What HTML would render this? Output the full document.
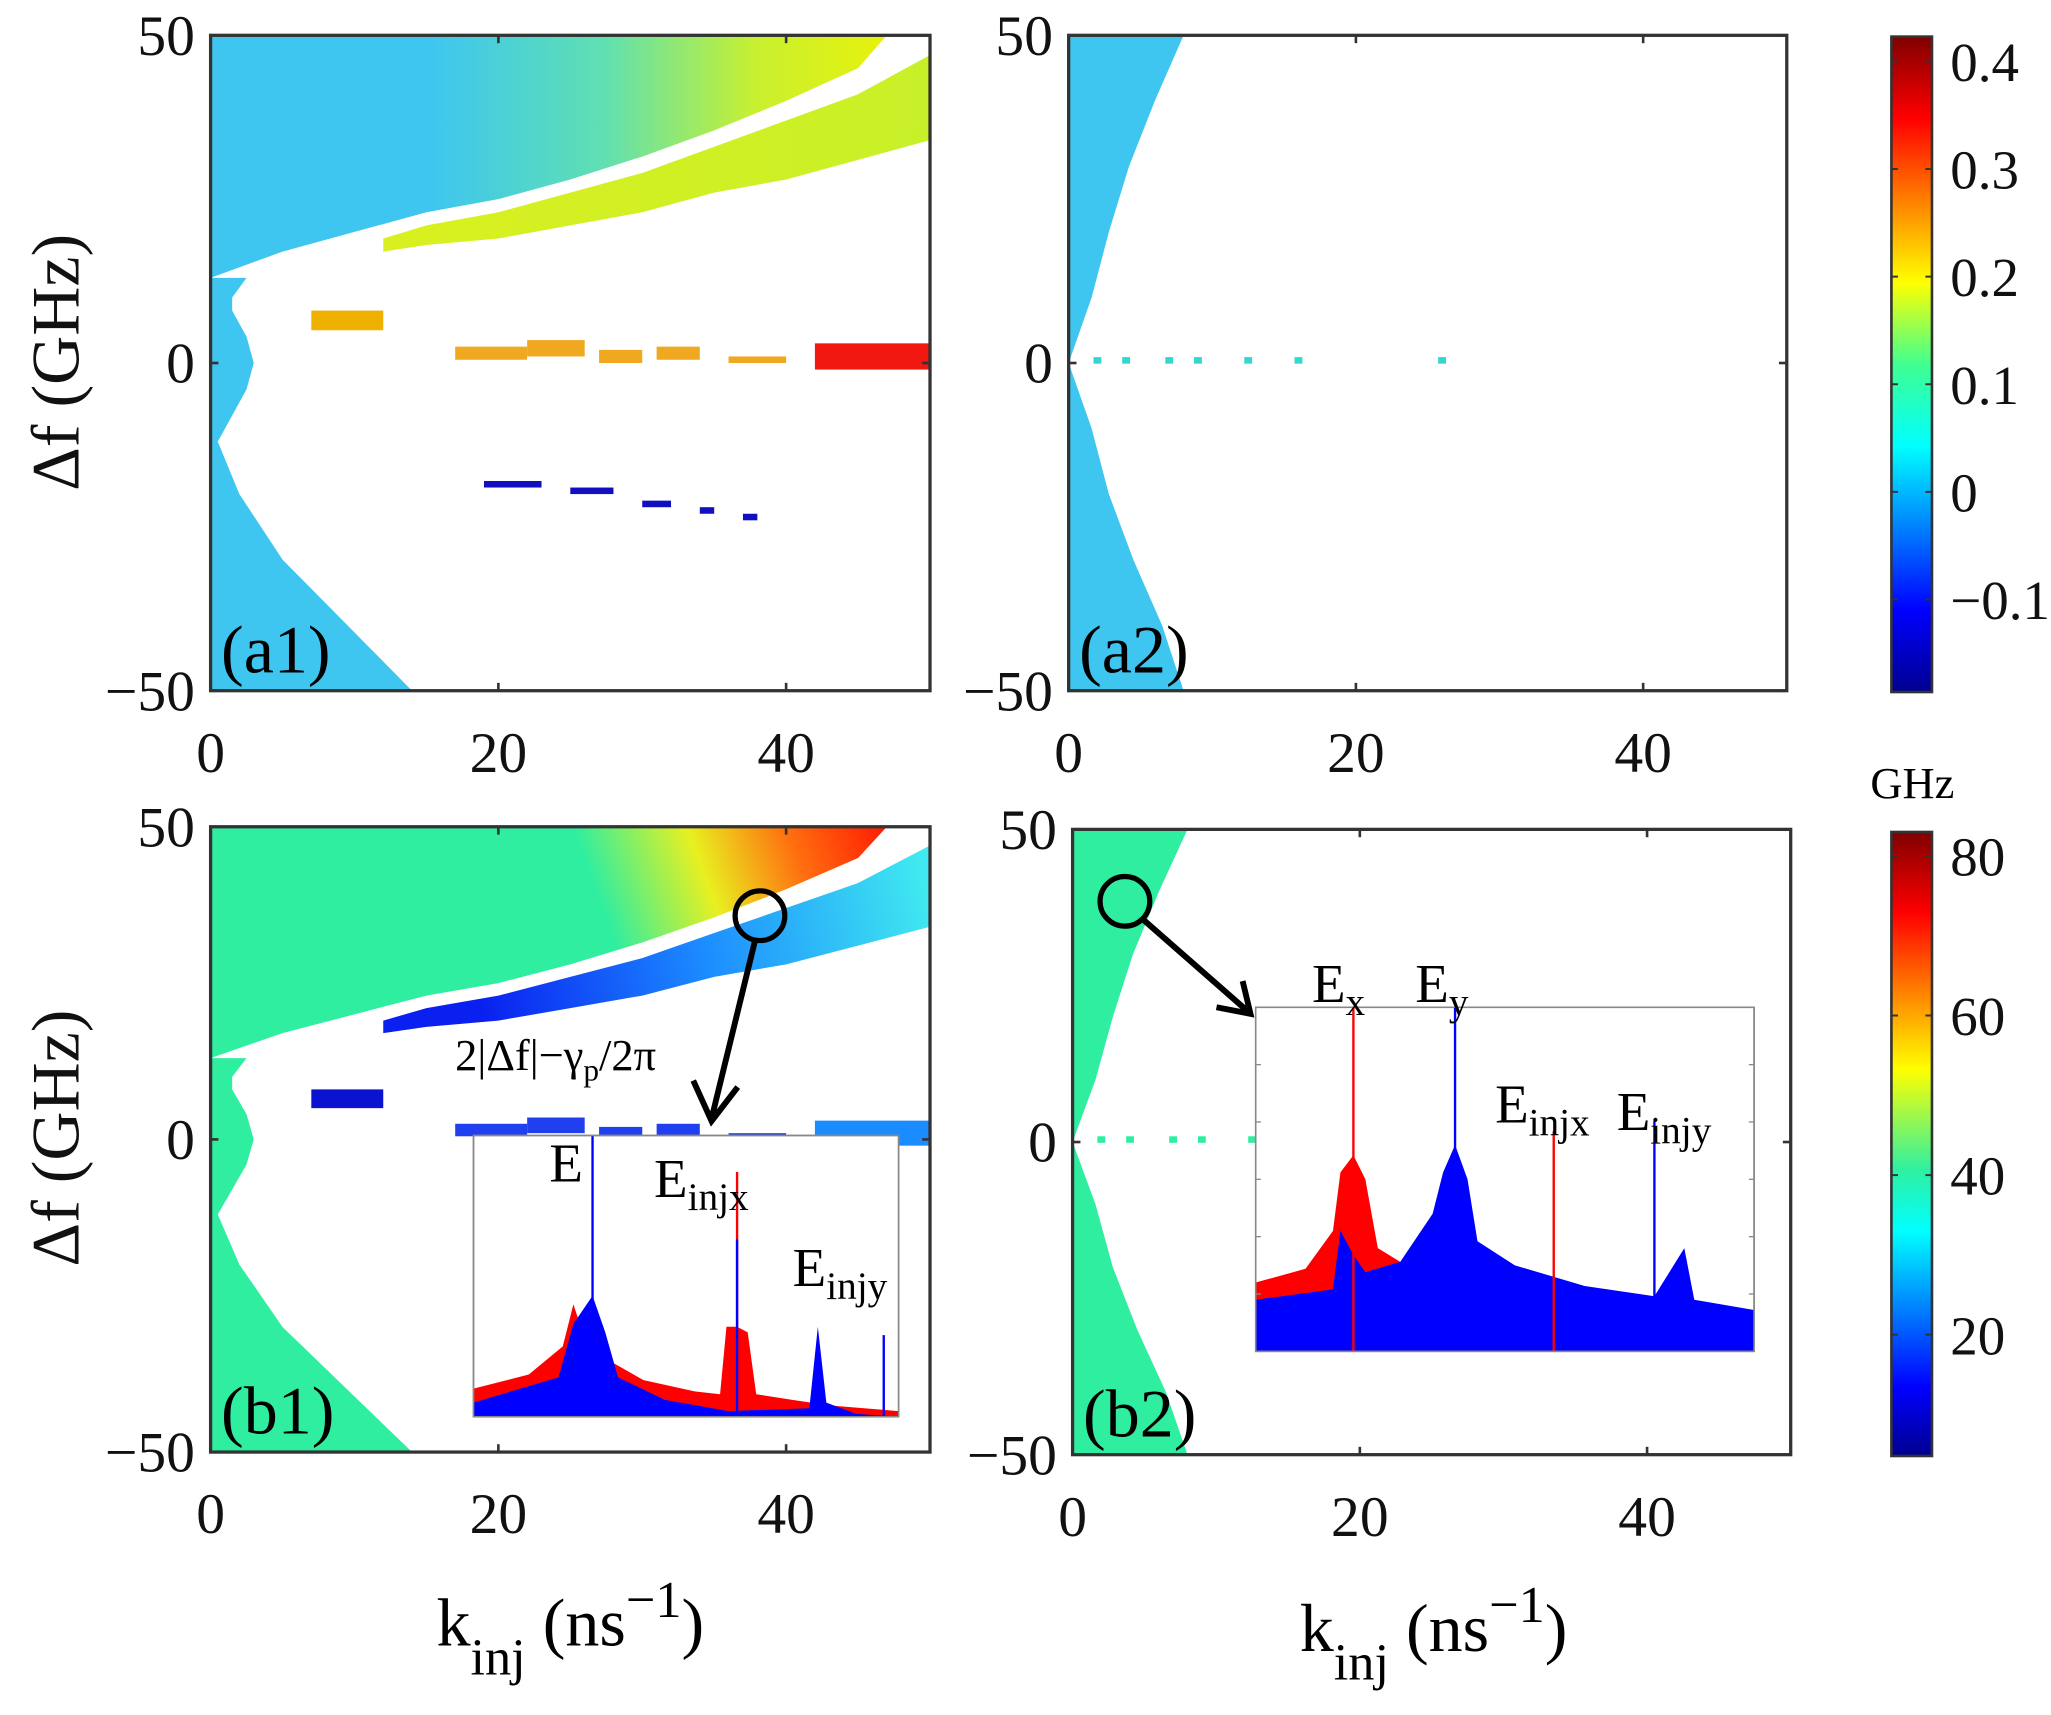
<!DOCTYPE html>
<html><head><meta charset="utf-8"><style>
html,body{margin:0;padding:0;background:#fff;}
svg{display:block;font-family:"Liberation Serif",serif;}
</style></head><body>
<svg id="fig" width="2051" height="1715" viewBox="0 0 1568 1311" preserveAspectRatio="none">
<defs>
<linearGradient id="jetV" x1="0" y1="1" x2="0" y2="0">
<stop offset="0" stop-color="#00008f"/><stop offset="0.125" stop-color="#0000ff"/><stop offset="0.375" stop-color="#00ffff"/><stop offset="0.5" stop-color="#40ff90"/><stop offset="0.625" stop-color="#ffff00"/><stop offset="0.875" stop-color="#ff0000"/><stop offset="1" stop-color="#800000"/>
</linearGradient>
<linearGradient id="jetV2" x1="0" y1="1" x2="0" y2="0">
<stop offset="0" stop-color="#00008f"/><stop offset="0.11" stop-color="#0000ff"/><stop offset="0.36" stop-color="#00ffff"/><stop offset="0.46" stop-color="#30f0a0"/><stop offset="0.62" stop-color="#ffff00"/><stop offset="0.87" stop-color="#ff0000"/><stop offset="1" stop-color="#800000"/>
</linearGradient>
<linearGradient id="gA1top" gradientUnits="userSpaceOnUse" x1="330" y1="0" x2="711" y2="0">
<stop offset="0" stop-color="#3ec6f0"/><stop offset="0.35" stop-color="#60e0b0"/><stop offset="0.65" stop-color="#c8f030"/><stop offset="1" stop-color="#f2f200"/>
</linearGradient>
<linearGradient id="gA1band" gradientUnits="userSpaceOnUse" x1="330" y1="0" x2="711" y2="0">
<stop offset="0" stop-color="#d8f020"/><stop offset="1" stop-color="#c8f028"/>
</linearGradient>
<linearGradient id="gB1top" gradientUnits="userSpaceOnUse" x1="470" y1="720" x2="690" y2="640">
<stop offset="0" stop-color="#30eea0"/><stop offset="0.35" stop-color="#e8f020"/><stop offset="0.65" stop-color="#ff7010"/><stop offset="1" stop-color="#ff1000"/>
</linearGradient>
<linearGradient id="gB1band" gradientUnits="userSpaceOnUse" x1="370" y1="780" x2="711" y2="700">
<stop offset="0" stop-color="#0a20f0"/><stop offset="0.5" stop-color="#1c8cff"/><stop offset="1" stop-color="#40e8f0"/>
</linearGradient>
</defs>
<g id="layer"></g>
</svg>
<script>
// ---- data ----
const xTicks = [0, 20, 40];
const yTicks = [50, 0, -50];
const yTickLabels = ["50", "0", "\u221250"];
// left lobe boundary (a1/b1)
const lobeDf = [-50, -40, -30, -20, -12, -8, -4, 0, 4, 8, 10, 13];
const lobeK  = [14, 9.5, 5, 2, 0.5, 1.5, 2.5, 3, 2.5, 1.5, 1.5, 2.5];
// top region lower boundary
const topK  = [0, 5, 10, 15, 20, 25, 30, 35, 40, 45, 47, 50];
const topDf = [13, 17, 20, 23, 25, 28, 31.5, 35.5, 40, 45, 50, 50];
// band
const bandK  = [12, 15, 20, 25, 30, 35, 40, 45, 50];
const bandUp = [19, 21, 23, 26, 29, 33, 37, 41, 47];
const bandLo = [17, 18, 19, 21, 23, 26, 28, 31, 34];
// patches
const patchesK0 = [7, 17, 22, 27, 31, 36, 42, 19, 25, 30, 34, 37];
const patchesK1 = [12, 22, 26, 30, 34, 40, 50, 23, 28, 32, 35, 38];
const patchesD0 = [5, 0.5, 1, 0, 0.5, 0, -1, -19, -20, -22, -23, -24];
const patchesD1 = [8, 2.5, 3.5, 2, 2.5, 1, 3, -18, -19, -21, -22, -23];
const patchesC  = [0, 1, 1, 1, 1, 1, 2, 3, 3, 3, 3, 3];
const colA1 = ["#f0b000", "#f0a820", "#f01810", "#1010c0"];
const colB1 = ["#0a14d0", "#2040f0", "#1a8cff", "#ffffff"];
// a2/b2 region boundary
const regDf = [50, 40, 30, 20, 10, 5, 0, -5, -10, -20, -30, -40, -50];
const regK  = [8, 6, 4.2, 2.8, 1.6, 0.8, 0, 0.8, 1.6, 2.8, 4.5, 6.5, 8];
const dotK = [2, 4, 7, 9, 12.5, 16, 26];
// colorbars
const cbATicks = [0.4, 0.3, 0.2, 0.1, 0, -0.1];
const cbATickLabels = ["0.4", "0.3", "0.2", "0.1", "0", "\u22120.1"];
const cbARange = [-0.186, 0.423];
const cbBTicks = [80, 60, 40, 20];
const cbBRange = [4.8, 83];
// spectra (x fraction, height fraction)
const sB1RedX = [0, 0.13, 0.21, 0.235, 0.25, 0.27, 0.30, 0.33, 0.40, 0.52, 0.58, 0.595, 0.62, 0.645, 0.665, 0.75, 0.84, 1];
const sB1RedY = [0.10, 0.15, 0.25, 0.40, 0.33, 0.32, 0.30, 0.19, 0.13, 0.09, 0.08, 0.32, 0.32, 0.30, 0.08, 0.06, 0.04, 0.02];
const sB1BlueX = [0, 0.2, 0.235, 0.28, 0.31, 0.34, 0.45, 0.6, 0.79, 0.81, 0.83, 0.9, 1];
const sB1BlueY = [0.05, 0.14, 0.33, 0.43, 0.30, 0.14, 0.06, 0.02, 0.03, 0.32, 0.05, 0.01, 0];
const sB1SpikeX = [0.28, 0.62, 0.62, 0.965];
const sB1SpikeY = [1.0, 0.87, 0.63, 0.29];
const sB1SpikeC = ["b", "r", "b", "b"];
const sB2RedX = [0, 0.1, 0.155, 0.17, 0.196, 0.22, 0.245, 0.29, 0.31];
const sB2RedY = [0.20, 0.24, 0.35, 0.52, 0.57, 0.50, 0.30, 0.26, 0.0];
const sB2BlueX = [0, 0.155, 0.17, 0.196, 0.22, 0.29, 0.355, 0.376, 0.40, 0.425, 0.445, 0.52, 0.66, 0.80, 0.86, 0.88, 1];
const sB2BlueY = [0.15, 0.18, 0.35, 0.28, 0.23, 0.26, 0.40, 0.52, 0.60, 0.50, 0.32, 0.25, 0.19, 0.16, 0.30, 0.15, 0.12];
const sB2SpikeX = [0.196, 0.40, 0.598, 0.80];
const sB2SpikeY = [1.0, 1.0, 0.64, 0.67];
const sB2SpikeC = ["r", "b", "r", "b"];

// ---- helpers ----
const NS = "http://www.w3.org/2000/svg";
const root = document.getElementById("layer");
function mk(tag, attrs, parent) {
  const e = document.createElementNS(NS, tag);
  for (const k in attrs) e.setAttribute(k, attrs[k]);
  (parent || root).appendChild(e);
  return e;
}
function panelScales(p) {
  return {
    X: k => p.x0 + k * p.w / 50,
    Y: d => p.y0 + (50 - d) * p.h / 100
  };
}
const panels = {
  a1: {x0: 161, y0: 27, w: 550, h: 501},
  a2: {x0: 817, y0: 27, w: 549, h: 501},
  b1: {x0: 161, y0: 632, w: 550, h: 478},
  b2: {x0: 820, y0: 634, w: 549, h: 478}
};

function drawLeftPanel(name, p, leftCol, topFill, bandFill, pcols) {
  const s = panelScales(p);
  const g = mk("g", {});
  
  
  let pts = [[s.X(0), s.Y(-50)]];
  for (let i = 0; i < lobeDf.length; i++) pts.push([s.X(lobeK[i]), s.Y(lobeDf[i])]);
  pts.push([s.X(0), s.Y(13)]);
  let e = mk("polygon", {points: pts.map(q => q.join(",")).join(" "), fill: leftCol}, g);
  
  
  pts = [[s.X(0), s.Y(50)]];
  for (let i = 0; i < topK.length; i++) pts.push([s.X(topK[i]), s.Y(topDf[i])]);
  pts.push([s.X(50), s.Y(50)]);
  e = mk("polygon", {points: pts.map(q => q.join(",")).join(" "), fill: topFill}, g);
  
  
  pts = [];
  for (let i = 0; i < bandK.length; i++) pts.push([s.X(bandK[i]), s.Y(bandUp[i])]);
  for (let i = bandK.length - 1; i >= 0; i--) pts.push([s.X(bandK[i]), s.Y(bandLo[i])]);
  e = mk("polygon", {points: pts.map(q => q.join(",")).join(" "), fill: bandFill}, g);
  
  
  for (let i = 0; i < patchesK0.length; i++) {
    const c = pcols[patchesC[i]];
    e = mk("rect", {x: s.X(patchesK0[i]), y: s.Y(patchesD1[i]), width: s.X(patchesK1[i]) - s.X(patchesK0[i]), height: s.Y(patchesD0[i]) - s.Y(patchesD1[i]), fill: c}, g);
    
    
  }
}
function drawRightPanel(name, p, col) {
  const s = panelScales(p);
  const g = mk("g", {});
  
  
  const pts = [[s.X(0), s.Y(50)]];
  for (let i = 0; i < regDf.length; i++) pts.push([s.X(regK[i]), s.Y(regDf[i])]);
  pts.push([s.X(0), s.Y(-50)]);
  let e = mk("polygon", {points: pts.map(q => q.join(",")).join(" "), fill: col}, g);
  
  
  for (let i = 0; i < dotK.length; i++) {
    e = mk("rect", {x: s.X(dotK[i]) - 3, y: s.Y(0.5) - 2, width: 6, height: 5, fill: name === "a2" ? "#30d8d0" : "#30eea0"}, g);
    
    
  }
}
function drawAxes(name, p, label) {
  const s = panelScales(p);
  const g = mk("g", {});
  
  
  let e = mk("rect", {x: p.x0, y: p.y0, width: p.w, height: p.h, fill: "none", stroke: "#333", "stroke-width": 2.5}, g);
  
  
  xTicks.forEach(k => {
    mk("line", {x1: s.X(k), x2: s.X(k), y1: p.y0 + p.h, y2: p.y0 + p.h - 6, stroke: "#333", "stroke-width": 2}, g);
    mk("line", {x1: s.X(k), x2: s.X(k), y1: p.y0, y2: p.y0 + 6, stroke: "#333", "stroke-width": 2}, g);
    const t = mk("text", {x: s.X(k), y: p.y0 + p.h + 62, "font-size": 44, "text-anchor": "middle", fill: "#111"}, g);
    t.textContent = k;
    
    
  });
  yTicks.forEach((d, i) => {
    mk("line", {x1: p.x0, x2: p.x0 + 6, y1: s.Y(d), y2: s.Y(d), stroke: "#333", "stroke-width": 2}, g);
    mk("line", {x1: p.x0 + p.w, x2: p.x0 + p.w - 6, y1: s.Y(d), y2: s.Y(d), stroke: "#333", "stroke-width": 2}, g);
    const t = mk("text", {x: p.x0 - 12, y: s.Y(d) + 15, "font-size": 44, "text-anchor": "end", fill: "#111"}, g);
    t.textContent = yTickLabels[i];
    
    
  });
  const t = mk("text", {x: p.x0 + 8, y: p.y0 + p.h - 14, "font-size": 52, fill: "#000"}, g);
  t.textContent = label;
  
  
}
function drawSpectrum(name, box, rx, ry, bx, by, sx, sy, sc, tickMarks) {
  const g = mk("g", {});
  
  
  mk("rect", {x: box.x, y: box.y, width: box.w, height: box.h, fill: "#fff", stroke: "#888", "stroke-width": 1.2}, g);
  const XX = f => box.x + f * box.w, YY = h => box.y + box.h - h * box.h;
  const poly = (xs, ys, col, nm) => {
    const pts = [[XX(xs[0]), YY(0)]];
    for (let i = 0; i < xs.length; i++) pts.push([XX(xs[i]), YY(ys[i])]);
    pts.push([XX(xs[xs.length - 1]), YY(0)]);
    const e = mk("polygon", {points: pts.map(q => q.join(",")).join(" "), fill: col}, g);
    
    
  };
  poly(rx, ry, "#ff0000", name + "-x-polarization");
  poly(bx, by, "#0000ff", name + "-y-polarization");
  for (let i = 0; i < sx.length; i++) {
    const e = mk("line", {x1: XX(sx[i]), x2: XX(sx[i]), y1: YY(0), y2: YY(sy[i]), stroke: sc[i] === "r" ? "#ff0000" : "#0000ff", "stroke-width": 1.8}, g);
    
    
  }
  if (tickMarks) for (let j = 1; j < 6; j++) {
    mk("line", {x1: box.x, x2: box.x + 4, y1: box.y + j * box.h / 6, y2: box.y + j * box.h / 6, stroke: "#888"}, g);
    mk("line", {x1: box.x + box.w, x2: box.x + box.w - 4, y1: box.y + j * box.h / 6, y2: box.y + j * box.h / 6, stroke: "#888"}, g);
  }
  mk("rect", {x: box.x, y: box.y, width: box.w, height: box.h, fill: "none", stroke: "#888", "stroke-width": 1.2}, g);
}
function txt(x, y, size, html, nm, anchor) {
  const t = mk("text", {x: x, y: y, "font-size": size, fill: "#000", "text-anchor": anchor || "start"});
  t.innerHTML = html;
  
  
  return t;
}
function colorbar(name, x, y0, y1, grad, ticks, labels, range) {
  const g = mk("g", {});
  
  
  mk("rect", {x: x, y: y0, width: 31, height: y1 - y0, fill: "url(#" + grad + ")", stroke: "#333", "stroke-width": 2}, g);
  const V = v => y1 - (v - range[0]) / (range[1] - range[0]) * (y1 - y0);
  ticks.forEach((v, i) => {
    mk("line", {x1: x, x2: x + 5, y1: V(v), y2: V(v), stroke: "#333", "stroke-width": 1.5}, g);
    mk("line", {x1: x + 31, x2: x + 26, y1: V(v), y2: V(v), stroke: "#333", "stroke-width": 1.5}, g);
    const t = mk("text", {x: x + 45, y: V(v) + 15, "font-size": 42, fill: "#111"}, g);
    t.textContent = labels[i];
    
    
  });
}

// ---- draw ----
drawLeftPanel("a1", panels.a1, "#3ec6f0", "url(#gA1top)", "url(#gA1band)", colA1);
drawLeftPanel("b1", panels.b1, "#30eea0", "url(#gB1top)", "url(#gB1band)", colB1);
drawRightPanel("a2", panels.a2, "#3ec6f0");
drawRightPanel("b2", panels.b2, "#30eea0");

drawSpectrum("b1-inset-spectrum", {x: 362, y: 868, w: 325, h: 215}, sB1RedX, sB1RedY, sB1BlueX, sB1BlueY, sB1SpikeX, sB1SpikeY, sB1SpikeC, false);
drawSpectrum("b2-inset-spectrum", {x: 960, y: 770, w: 381, h: 263}, sB2RedX, sB2RedY, sB2BlueX, sB2BlueY, sB2SpikeX, sB2SpikeY, sB2SpikeC, true);

drawAxes("a1", panels.a1, "(a1)");
drawAxes("a2", panels.a2, "(a2)");
drawAxes("b1", panels.b1, "(b1)");
drawAxes("b2", panels.b2, "(b2)");

txt(420, 903, 42, "E", "label-e");
txt(500, 915, 42, 'E<tspan font-size="30" dy="10">injx</tspan>', "label-einjx-b1");
txt(606, 983, 42, 'E<tspan font-size="30" dy="10">injy</tspan>', "label-einjy-b1");
txt(348, 818, 34, '2|Δf|−γ<tspan font-size="24" dy="8">p</tspan><tspan dy="-8">/2π</tspan>', "formula-label");
txt(1003, 766, 42, 'E<tspan font-size="30" dy="10">x</tspan>', "label-ex");
txt(1082, 766, 42, 'E<tspan font-size="30" dy="10">y</tspan>', "label-ey");
txt(1143, 858, 42, 'E<tspan font-size="30" dy="10">injx</tspan>', "label-einjx-b2");
txt(1236, 864, 42, 'E<tspan font-size="30" dy="10">injy</tspan>', "label-einjy-b2");

let c = mk("circle", {cx: 581, cy: 700, r: 19, fill: "none", stroke: "#000", "stroke-width": 4});


c = mk("circle", {cx: 860, cy: 689, r: 19, fill: "none", stroke: "#000", "stroke-width": 4});


let a = mk("path", {d: "M577,720 L544,855 M530,826 L544,857 L564,831", fill: "none", stroke: "#000", "stroke-width": 4.5});


a = mk("path", {d: "M874,703 L955,774 M930,770 L956,775 L950,750", fill: "none", stroke: "#000", "stroke-width": 4.5});



for (const [cy, nm] of [[277, "y-axis-title-top"], [870, "y-axis-title-bottom"]]) {
  const t = mk("text", {x: 0, y: 0, "font-size": 52, "text-anchor": "middle", fill: "#111", transform: "translate(60," + cy + ") rotate(-90)"});
  t.textContent = "Δf (GHz)";
  
  
}
txt(436, 1258, 52, 'k<tspan font-size="40" dy="22">inj</tspan><tspan dy="-22"> (ns</tspan><tspan font-size="40" dy="-22">−1</tspan><tspan dy="22">)</tspan>', "x-axis-title-left", "middle");
txt(1096, 1262, 52, 'k<tspan font-size="40" dy="22">inj</tspan><tspan dy="-22"> (ns</tspan><tspan font-size="40" dy="-22">−1</tspan><tspan dy="22">)</tspan>', "x-axis-title-right", "middle");

colorbar("colorbar-a", 1446, 28, 529, "jetV", cbATicks, cbATickLabels, cbARange);
colorbar("colorbar-b", 1446, 636, 1113, "jetV2", cbBTicks, cbBTicks.map(String), cbBRange);
txt(1462, 610, 34, "GHz", "colorbar-b-unit", "middle");
</script>
</body></html>
